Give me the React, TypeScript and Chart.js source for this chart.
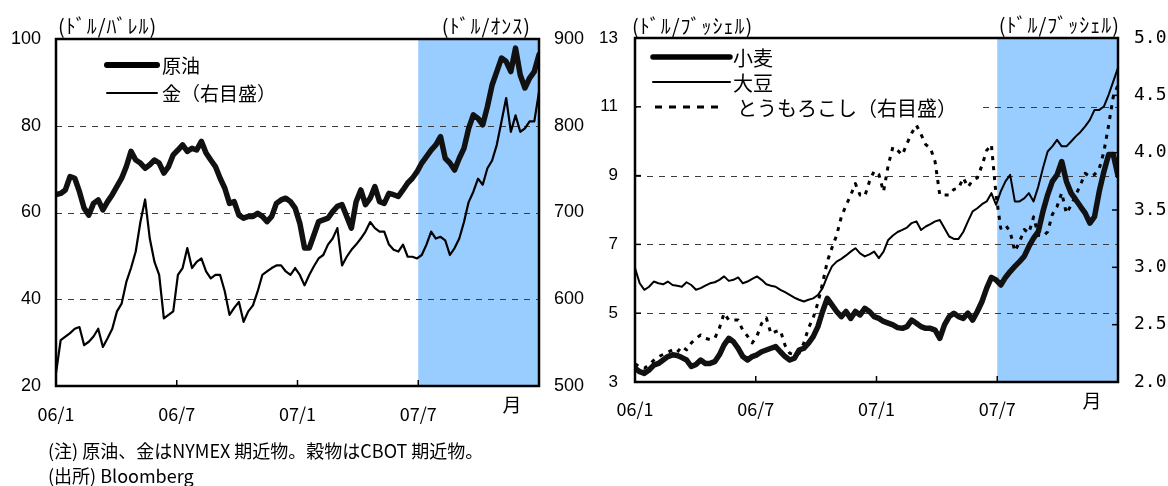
import React, { useEffect, useRef } from "react";
import { Chart, registerables } from "chart.js";

Chart.register(...registerables);

const JP = "'Noto Sans CJK JP', 'Noto Sans', sans-serif";
const NUM = "'Liberation Sans', Arial, sans-serif";
const MONO = "'DejaVu Sans Mono', monospace";

// ---- axis / category data ----
const monthTickValues = [0, 6, 12, 18];
const monthTickLabels = ["06/1", "06/7", "07/1", "07/7"];
const monthSpan = 24;
const shadeFromMonth = 18;
const monthUnit = "月";

// ---- left chart: weekly values, Jan 2006 - Dec 2007 ----
const crudeOil = [
  64.1, 64.4, 65.2, 68.3, 67.9, 64.8, 61.0, 59.4, 62.1, 62.9, 60.6, 62.5, 64.1, 66.0, 67.9, 70.6,
  74.1, 72.1, 71.4, 70.2, 71.0, 72.1, 71.4, 69.1, 70.6, 73.3, 74.4, 75.6, 74.1, 74.8, 74.4, 76.4,
  73.7, 72.1, 70.6, 67.9, 65.6, 62.1, 62.5, 59.4, 58.7, 59.1, 59.1, 59.8, 59.1, 57.9, 59.1, 62.1,
  62.9, 63.3, 62.5, 61.0,
  57.5, 51.8, 51.8, 54.8, 57.9, 58.3, 58.7, 60.2, 61.4, 61.8, 59.1, 56.4, 62.5, 65.2, 61.8, 63.3,
  66.0, 62.5, 62.1, 64.4, 64.1, 63.7, 65.2, 66.8, 67.9, 69.4, 71.4, 72.9, 74.4, 75.6, 77.5, 72.5,
  71.4, 69.8, 72.5, 74.8, 79.4, 82.5, 81.7, 80.2, 84.4, 89.4, 92.5, 95.6, 94.8, 92.5, 97.9, 91.7,
  88.7, 91.0, 92.5, 96.4,
];
const gold = [
  515, 553, 557, 561, 566, 568, 547, 551, 557, 566, 545, 555, 566, 586, 595, 620,
  636, 655, 689, 715, 670, 643, 628, 578, 582, 586, 628, 636, 659, 636, 643, 647,
  632, 624, 628, 628, 609, 582, 590, 597, 574, 586, 593, 609, 628, 632, 636, 639,
  639, 632, 628, 636, 628,
  616, 628, 638, 647, 651, 663, 670, 682, 639, 649, 657, 663, 670, 678, 689, 682,
  678, 678, 663, 657, 655, 663, 649, 649, 647, 651, 663, 678, 670, 672, 668, 651,
  659, 670, 689, 712, 724, 739, 732, 751, 760, 778, 805, 832, 793, 812, 793, 797,
  805, 805, 839,
];

// ---- right chart ----
const wheat = [
  3.40, 3.30, 3.25, 3.35, 3.49, 3.54, 3.64, 3.74, 3.79, 3.77, 3.71, 3.64, 3.45, 3.51, 3.64, 3.54,
  3.54, 3.59, 3.79, 4.08, 4.27, 4.17, 3.98, 3.74, 3.64, 3.74, 3.79, 3.88, 3.93, 3.98, 4.03, 3.88,
  3.74, 3.64, 3.69, 3.93, 3.98, 4.13, 4.32, 4.61, 5.05, 5.43, 5.24, 5.05, 4.90, 5.05, 4.85, 5.05,
  4.95, 5.14, 5.05, 4.90,
  4.85, 4.76, 4.71, 4.66, 4.58, 4.56, 4.61, 4.80, 4.71, 4.61, 4.56, 4.56, 4.51, 4.27, 4.66, 4.90,
  5.00, 4.90, 4.85, 5.00, 4.80, 5.05, 5.34, 5.73, 6.04, 5.97, 5.82, 6.04, 6.21, 6.36, 6.50, 6.65,
  6.94, 7.18, 7.37, 7.96, 8.44, 8.83, 9.02, 9.41, 8.83, 8.49, 8.30, 8.10, 7.91, 7.62, 7.81, 8.54,
  9.12, 9.61, 9.61, 9.00,
];
const soybeans = [
  6.31, 5.87, 5.68, 5.77, 5.92, 5.87, 5.84, 5.92, 5.82, 5.80, 5.77, 5.90, 5.82, 5.68, 5.73, 5.80,
  5.87, 5.90, 5.97, 6.07, 5.94, 5.97, 6.04, 5.87, 5.92, 6.00, 6.07, 5.97, 5.84, 5.80, 5.77, 5.68,
  5.61, 5.53, 5.45, 5.39, 5.34, 5.39, 5.43, 5.53, 5.73, 6.07, 6.36, 6.50, 6.58, 6.68, 6.79, 6.89,
  6.74, 6.65, 6.71, 6.79,
  6.60, 6.79, 7.13, 7.26, 7.36, 7.42, 7.49, 7.62, 7.67, 7.42, 7.52, 7.59, 7.67, 7.71, 7.47, 7.23,
  7.16, 7.16, 7.36, 7.67, 7.96, 8.05, 8.17, 8.25, 8.49, 8.15, 8.54, 8.83, 9.02, 8.25, 8.25, 8.34,
  8.49, 8.25, 8.68, 9.22, 9.70, 9.85, 10.04, 9.85, 9.85, 9.99, 10.14, 10.27, 10.43, 10.62, 10.91, 10.91,
  11.01, 11.35, 11.74, 12.13,
];
const corn = [
  2.16, 2.13, 2.12, 2.15, 2.19, 2.22, 2.24, 2.26, 2.28, 2.26, 2.31, 2.28, 2.34, 2.38, 2.41, 2.38,
  2.37, 2.38, 2.47, 2.60, 2.54, 2.54, 2.54, 2.45, 2.40, 2.34, 2.40, 2.51, 2.56, 2.42, 2.44, 2.45,
  2.32, 2.25, 2.24, 2.25, 2.34, 2.47, 2.56, 2.69, 2.86, 3.05, 3.17, 3.28, 3.44, 3.54, 3.63, 3.73,
  3.63, 3.62, 3.75, 3.84,
  3.81, 3.66, 3.89, 4.05, 4.02, 3.98, 4.08, 4.17, 4.24, 4.16, 4.07, 4.04, 3.92, 3.63, 3.63, 3.63,
  3.68, 3.69, 3.78, 3.70, 3.76, 3.78, 3.89, 4.02, 4.07, 3.63, 3.34, 3.37, 3.31, 3.14, 3.22, 3.33,
  3.30, 3.44, 3.28, 3.27, 3.31, 3.46, 3.53, 3.65, 3.47, 3.54, 3.63, 3.72, 3.82, 3.79, 3.81, 3.86,
  4.01, 4.24, 4.49, 4.59,
];

const oilGrid = [40, 60, 80];
const grainGrid = [5, 7, 9, 11];
const grainRightTicks = [2.5, 3.0, 3.5, 4.0, 4.5];

const toPoints = (vals: number[]) =>
  vals.map((v, i) => ({ x: (i * monthSpan) / (vals.length - 1), y: v }));

const decorPlugin = {
  id: "decor",
  beforeDatasetsDraw(chart: any, _a: any, o: any) {
    const { ctx, chartArea: a, scales } = chart;
    ctx.save();
    const x0 = scales.x.getPixelForValue(o.shadeFrom);
    ctx.fillStyle = "#99ccff";
    ctx.fillRect(x0, a.top, a.right - x0, a.bottom - a.top);
    ctx.strokeStyle = "#3c3c3c";
    ctx.lineWidth = 1;
    ctx.setLineDash([6, 6]);
    for (const v of o.gridValues) {
      const y = Math.round(scales.y.getPixelForValue(v)) + 0.5;
      ctx.beginPath();
      ctx.moveTo(a.left, y);
      ctx.lineTo(a.right, y);
      ctx.stroke();
    }
    ctx.restore();
  },
  afterDatasetsDraw(chart: any, _a: any, o: any) {
    const { ctx, chartArea: a, scales } = chart;
    ctx.save();
    if (o.legendBox) {
      ctx.fillStyle = "#fff";
      ctx.fillRect(a.left + 2, a.top + 2, o.legendBox.w, o.legendBox.h);
    }
    for (const it of o.legendItems) {
      ctx.strokeStyle = "#000";
      ctx.lineWidth = it.width;
      ctx.setLineDash(it.dash || []);
      ctx.lineCap = it.dash ? "butt" : "round";
      ctx.beginPath();
      ctx.moveTo(a.left + it.x0, a.top + it.y);
      ctx.lineTo(a.left + it.x1, a.top + it.y);
      ctx.stroke();
      ctx.setLineDash([]);
      ctx.fillStyle = "#000";
      ctx.font = o.legendFont;
      ctx.textBaseline = "middle";
      ctx.textAlign = "left";
      ctx.fillText(it.label, a.left + it.tx, a.top + it.y + 1);
    }
    const seg = (x1: number, y1: number, x2: number, y2: number) => {
      ctx.beginPath();
      ctx.moveTo(x1, y1);
      ctx.lineTo(x2, y2);
      ctx.stroke();
    };
    ctx.strokeStyle = "#000";
    ctx.lineWidth = 1.5;
    ctx.lineCap = "butt";
    for (const v of o.xTicks) {
      const x = scales.x.getPixelForValue(v);
      seg(x, a.bottom, x, a.bottom - 6);
    }
    for (const v of o.leftTicks) {
      const y = scales.y.getPixelForValue(v);
      seg(a.left, y, a.left + 6, y);
    }
    for (const v of o.rightTicks) {
      const y = scales.y2.getPixelForValue(v);
      seg(a.right, y, a.right - 6, y);
    }
    ctx.lineWidth = 2.5;
    ctx.strokeRect(a.left, a.top, a.right - a.left, a.bottom - a.top);
    ctx.fillStyle = "#000";
    ctx.font = o.unitFont;
    try {
      (ctx as any).letterSpacing = "1px";
    } catch (e) {}
    ctx.textBaseline = "middle";
    ctx.textAlign = "left";
    ctx.fillText(o.unitLeft, a.left + o.unitLeftDx, o.unitLeftY);
    ctx.textAlign = "right";
    ctx.fillText(o.unitRight, a.right + o.unitRightDx, o.unitRightY);
    try {
      (ctx as any).letterSpacing = "0px";
    } catch (e) {}
    ctx.font = `19px ${JP}`;
    ctx.textAlign = "center";
    ctx.fillText(monthUnit, a.right + o.monthDx, a.bottom + o.monthDy);
    ctx.restore();
  },
};

function xScale(height: number, padding: number) {
  return {
    type: "linear",
    min: 0,
    max: monthSpan,
    grid: { display: false, drawTicks: false },
    border: { display: false },
    afterBuildTicks: (s: any) => {
      s.ticks = monthTickValues.map((value) => ({ value }));
    },
    afterFit: (s: any) => {
      s.height = height;
    },
    ticks: {
      autoSkip: false,
      maxRotation: 0,
      padding,
      color: "#000",
      font: { family: JP, size: 18 },
      callback: (_v: any, i: number) => monthTickLabels[i],
    },
  };
}

function yScale(pos: string, min: number, max: number, step: number, width: number, padding: number, font: any, cb?: any) {
  return {
    position: pos,
    min,
    max,
    grid: { display: false, drawTicks: false },
    border: { display: false },
    afterFit: (s: any) => {
      s.width = width;
    },
    ticks: {
      stepSize: step,
      padding,
      color: "#000",
      font,
      ...(cb ? { callback: cb } : {}),
    },
  };
}

export default function App() {
  const leftRef = useRef<HTMLCanvasElement>(null);
  const rightRef = useRef<HTMLCanvasElement>(null);

  useEffect(() => {
    const common = {
      animation: false,
      responsive: false,
      maintainAspectRatio: false,
      events: [],
      elements: {
        point: { radius: 0 },
        line: { tension: 0, borderJoinStyle: "round", borderCapStyle: "round" },
      },
    };

    const left = new Chart(leftRef.current!, {
      type: "line",
      data: {
        datasets: [
          { label: "原油", data: toPoints(crudeOil), yAxisID: "y", borderColor: "#111", borderWidth: 5.5 },
          { label: "金", data: toPoints(gold), yAxisID: "y2", borderColor: "#000", borderWidth: 2.2 },
        ],
      },
      options: {
        ...common,
        layout: { padding: { top: 39, left: 0, right: 0, bottom: 0 } },
        plugins: {
          legend: { display: false },
          tooltip: { enabled: false },
          decor: {
            shadeFrom: shadeFromMonth,
            gridValues: oilGrid,
            xTicks: [6, 12, 18],
            leftTicks: [],
            rightTicks: [],
            legendFont: `19px ${JP}`,
            legendItems: [
              { x0: 51, x1: 101, y: 26, width: 6, tx: 106, label: "原油" },
              { x0: 51, x1: 101, y: 54, width: 2, tx: 106, label: "金（右目盛）" },
            ],
            unitFont: `20px ${JP}`,
            unitLeft: "(ﾄﾞﾙ/ﾊﾞﾚﾙ)",
            unitLeftDx: 2,
            unitLeftY: 26,
            unitRight: "(ﾄﾞﾙ/ｵﾝｽ)",
            unitRightDx: -8,
            unitRightY: 26,
            monthDx: -27,
            monthDy: 19,
          },
        },
        scales: {
          x: xScale(100, 17),
          y: yScale("left", 20, 100, 20, 56, 15, { family: NUM, size: 18 }),
          y2: yScale("right", 500, 900, 100, 61, 15, { family: NUM, size: 18 }),
        },
      } as any,
      plugins: [decorPlugin as any],
    });

    const right = new Chart(rightRef.current!, {
      type: "line",
      data: {
        datasets: [
          { label: "小麦", data: toPoints(wheat), yAxisID: "y", borderColor: "#111", borderWidth: 5.5 },
          { label: "大豆", data: toPoints(soybeans), yAxisID: "y", borderColor: "#000", borderWidth: 2 },
          { label: "とうもろこし", data: toPoints(corn), yAxisID: "y2", borderColor: "#000", borderWidth: 3, borderDash: [4, 6], borderCapStyle: "butt" },
        ],
      },
      options: {
        ...common,
        layout: { padding: { top: 38, left: 0, right: 0, bottom: 0 } },
        plugins: {
          legend: { display: false },
          tooltip: { enabled: false },
          decor: {
            shadeFrom: shadeFromMonth,
            gridValues: grainGrid,
            xTicks: [6, 12, 18],
            leftTicks: grainGrid,
            rightTicks: grainRightTicks,
            legendBox: { w: 343, h: 78 },
            legendFont: `20px ${JP}`,
            legendItems: [
              { x0: 18, x1: 95, y: 19, width: 5.5, tx: 98, label: "小麦" },
              { x0: 18, x1: 95, y: 44, width: 2, tx: 98, label: "大豆" },
              { x0: 20, x1: 84, y: 69, width: 3, dash: [7, 7], tx: 102, label: "とうもろこし（右目盛）" },
            ],
            unitFont: `20px ${JP}`,
            unitLeft: "(ﾄﾞﾙ/ﾌﾞｯｼｪﾙ)",
            unitLeftDx: -3,
            unitLeftY: 26,
            unitRight: "(ﾄﾞﾙ/ﾌﾞｯｼｪﾙ)",
            unitRightDx: 2,
            unitRightY: 25,
            monthDx: -26,
            monthDy: 19,
          },
        },
        scales: {
          x: xScale(104, 16),
          y: yScale("left", 3, 13, 2, 45, 17, { family: NUM, size: 17 }),
          y2: yScale("right", 2, 5, 0.5, 50, 16, { family: MONO, size: 18 }, (v: number) => v.toFixed(1)),
        },
      } as any,
      plugins: [decorPlugin as any],
    });

    return () => {
      left.destroy();
      right.destroy();
    };
  }, []);

  const note = { position: "absolute" as const, left: 48, fontFamily: JP, fontSize: 18, color: "#000", whiteSpace: "nowrap" as const, lineHeight: "22px" };

  return (
    <div style={{ position: "absolute", left: 0, top: 0, width: 1168, height: 486, background: "#fff", overflow: "hidden" }}>
      <canvas ref={leftRef} width={600} height={486} style={{ position: "absolute", left: 0, top: 0 }} />
      <canvas ref={rightRef} width={578} height={486} style={{ position: "absolute", left: 590, top: 0 }} />
      <div style={{ ...note, top: 439 }}>(注) 原油、金はNYMEX 期近物。穀物はCBOT 期近物。</div>
      <div style={{ ...note, top: 464 }}>(出所) Bloomberg</div>
    </div>
  );
}
